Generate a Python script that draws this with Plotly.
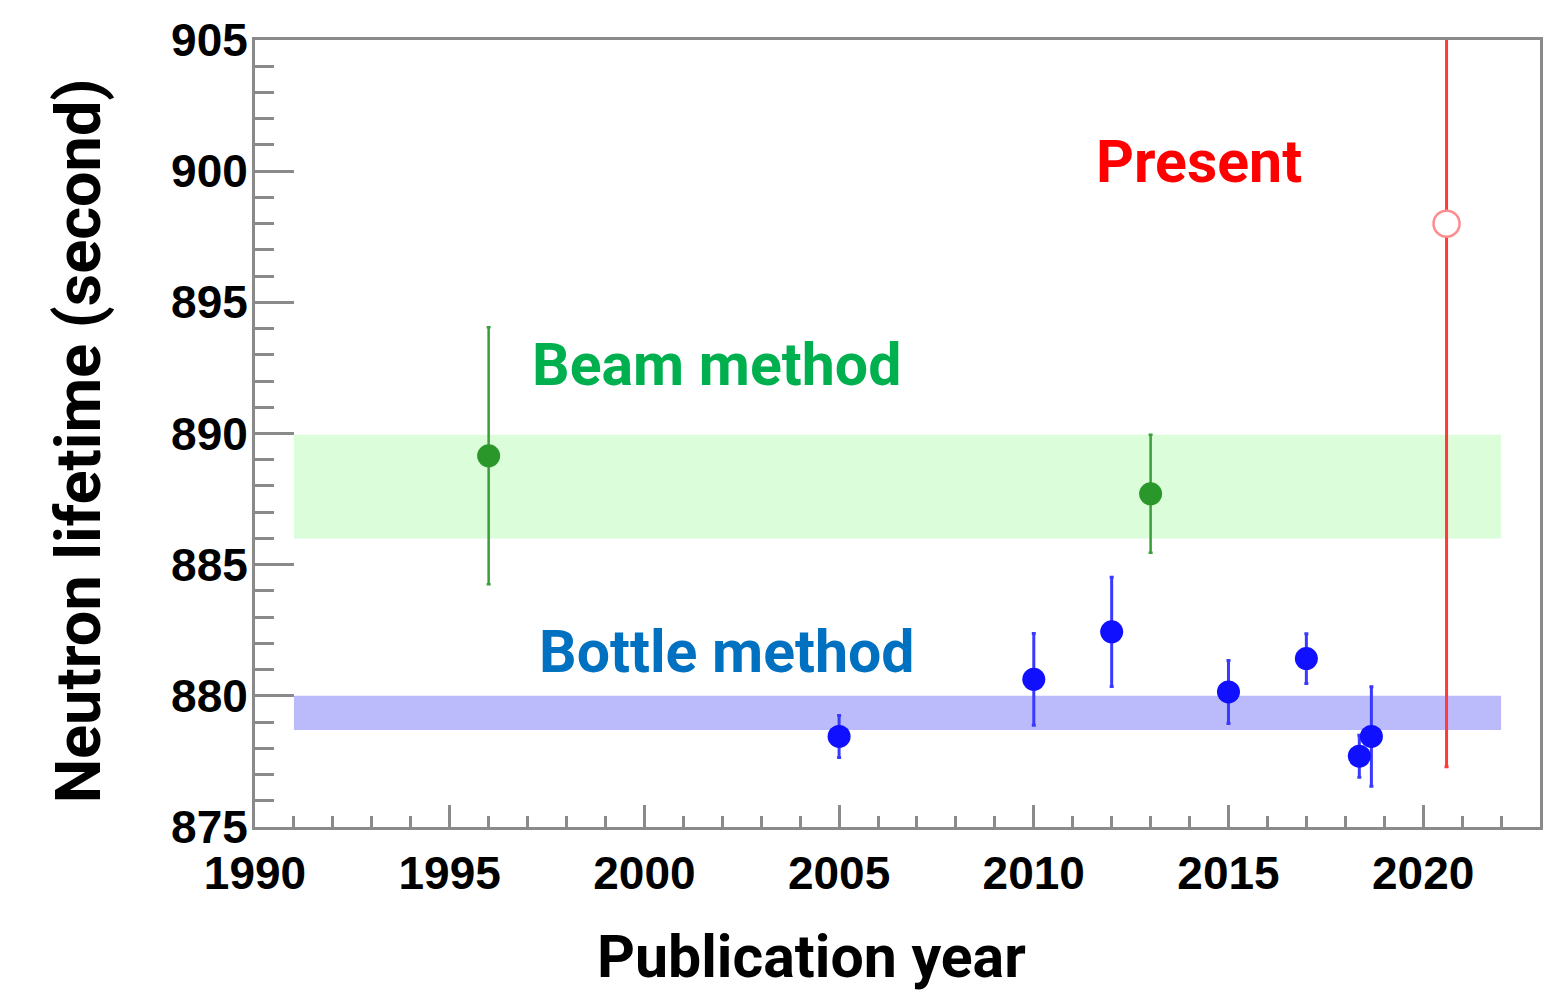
import plotly.graph_objects as go

# Beam-method measurements
beam_year = [1996.0, 2013.0]
beam_tau = [889.15, 887.7]
beam_err = [4.9, 2.25]

# Bottle-method measurements
bottle_year = [2005.0, 2010.0, 2012.0, 2015.0, 2017.0, 2018.36, 2018.67]
bottle_tau = [878.45, 880.63, 882.44, 880.15, 881.42, 877.7, 878.45]
bottle_err = [0.8, 1.75, 2.08, 1.2, 0.95, 0.8, 1.9]

# Present result
present_year = [2020.6]
present_tau = [898.0]
present_err = [20.7]

# Average bands (x span, y low, y high)
band_x = [1991.0, 2022.0]
beam_band = [886.0, 889.95]
bottle_band = [878.7, 880.0]

fig = go.Figure()

fig.add_shape(type="rect", xref="x", yref="y",
              x0=band_x[0], x1=band_x[1], y0=beam_band[0], y1=beam_band[1],
              fillcolor="#dbfdda", line_width=0, layer="below")
fig.add_shape(type="rect", xref="x", yref="y",
              x0=band_x[0], x1=band_x[1], y0=bottle_band[0], y1=bottle_band[1],
              fillcolor="#bbbbfb", line_width=0, layer="below")

fig.add_trace(go.Scatter(
    x=beam_year, y=beam_tau, mode="markers",
    marker=dict(color="#2a972a", size=23),
    error_y=dict(type="data", array=beam_err, color="#3a9e3a", thickness=2.5, width=2),
))
fig.add_trace(go.Scatter(
    x=bottle_year, y=bottle_tau, mode="markers",
    marker=dict(color="#1010ff", size=23),
    error_y=dict(type="data", array=bottle_err, color="#3a3aff", thickness=3, width=2),
))
fig.add_trace(go.Scatter(
    x=present_year, y=present_tau, mode="markers",
    marker=dict(color="white", size=26, line=dict(color="#ff8c8c", width=2.5)),
    error_y=dict(type="data", array=present_err, color="#ff3a3a", thickness=3, width=2),
))

title_font = dict(family="Roboto", size=59)
fig.add_annotation(text="<b>Beam method</b>", x=1997.05, y=892.63, xref="x", yref="y",
                   xanchor="left", yanchor="middle", showarrow=False,
                   font=dict(title_font, color="#00b04f"))
fig.add_annotation(text="<b>Bottle method</b>", x=1997.25, y=881.68, xref="x", yref="y",
                   xanchor="left", yanchor="middle", showarrow=False,
                   font=dict(title_font, color="#0070c0"))
fig.add_annotation(text="<b>Present</b>", x=2011.55, y=900.38, xref="x", yref="y",
                   xanchor="left", yanchor="middle", showarrow=False,
                   font=dict(title_font, color="#ff0000"))

# Axis titles
fig.add_annotation(text="<b>Publication year</b>", x=(811 - 255) / 1285, y=-0.165,
                   xref="paper", yref="paper", xanchor="center", yanchor="middle",
                   showarrow=False, font=dict(family="Roboto", size=59, color="black"))
fig.add_annotation(text="<b>Neutron lifetime (second)</b>", x=(78 - 255) / 1285, y=0.49,
                   xref="paper", yref="paper", xanchor="center", yanchor="middle",
                   textangle=-90, showarrow=False,
                   font=dict(family="Roboto", size=63, color="black"))

tick_font = dict(family="Liberation Sans", size=46, color="black", weight="bold")
axis_col = "#8a8a8a"

fig.update_xaxes(range=[1990, 2023], dtick=5, tick0=1990, ticks="inside", ticklen=22,
                 tickwidth=3, tickcolor=axis_col, showline=True, linecolor=axis_col,
                 linewidth=3, mirror=True, showgrid=False, zeroline=False,
                 tickfont=tick_font, ticklabelstandoff=4,
                 minor=dict(dtick=1, ticks="inside", ticklen=11, tickwidth=3,
                            tickcolor=axis_col, showgrid=False))
fig.update_yaxes(range=[875, 905], dtick=5, tick0=875, ticks="inside", ticklen=39,
                 tickwidth=3, tickcolor=axis_col, showline=True, linecolor=axis_col,
                 linewidth=3, mirror=True, showgrid=False, zeroline=False,
                 tickfont=tick_font, ticklabelstandoff=-5,
                 minor=dict(dtick=1, ticks="inside", ticklen=19, tickwidth=3,
                            tickcolor=axis_col, showgrid=False))

fig.update_layout(
    width=1562, height=994,
    margin=dict(l=255, r=22, t=40, b=167),
    paper_bgcolor="white", plot_bgcolor="white",
    showlegend=False,
)

fig.write_html("out.html")
